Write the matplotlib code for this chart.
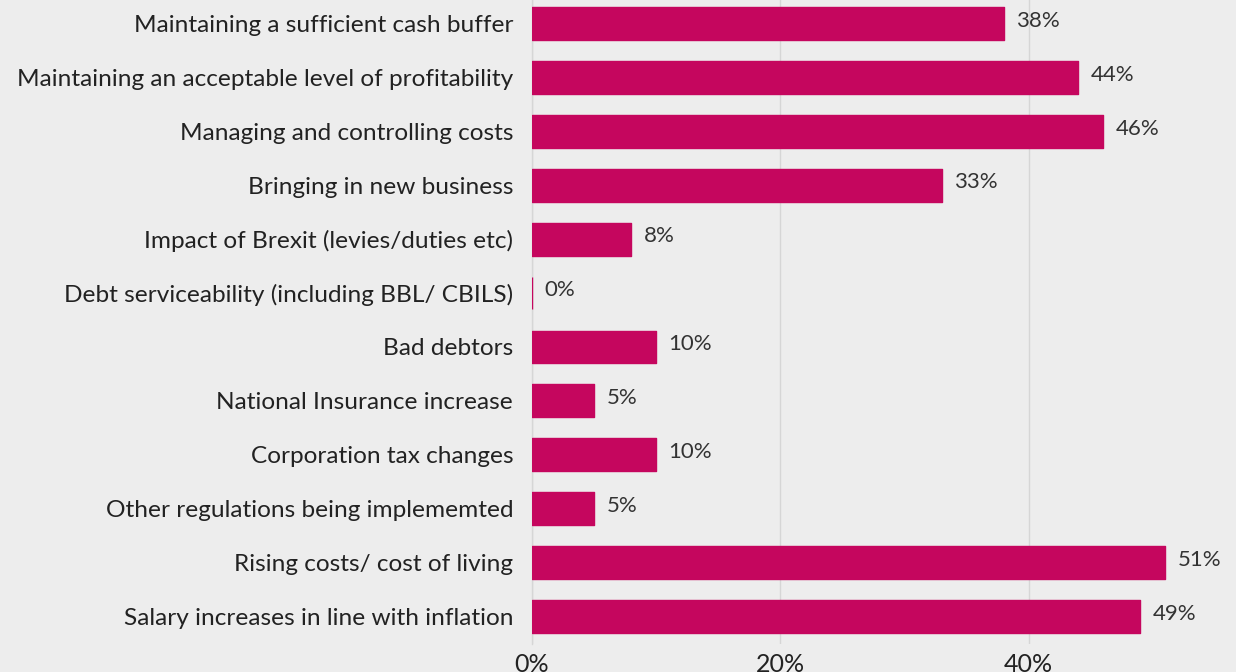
import matplotlib
matplotlib.use("Agg")
import matplotlib.pyplot as plt
from matplotlib.ticker import FuncFormatter

categories = [
    "Maintaining a sufficient cash buffer",
    "Maintaining an acceptable level of profitability",
    "Managing and controlling costs",
    "Bringing in new business",
    "Impact of Brexit (levies/duties etc)",
    "Debt serviceability (including BBL/ CBILS)",
    "Bad debtors",
    "National Insurance increase",
    "Corporation tax changes",
    "Other regulations being implememted",
    "Rising costs/ cost of living",
    "Salary increases in line with inflation",
]
values = [38, 44, 46, 33, 8, 0, 10, 5, 10, 5, 51, 49]
x_ticks = [0, 20, 40]

BG = "#EDEDED"
BAR = "#C5065E"
TEXT = "#222222"

plt.rcParams["font.family"] = ["Lato", "DejaVu Sans"]

fig = plt.figure(figsize=(12.36, 6.72), dpi=100, facecolor=BG)
ax = fig.add_axes([532 / 1236, 28.5 / 672, 704 / 1236, 647 / 672], facecolor=BG)

y = list(range(len(categories)))
bars = ax.barh(y, values, height=0.61, color=BAR, edgecolor=BAR,
               linewidth=1, joinstyle="round", zorder=3)

ax.set_xlim(0, 56.7)
ax.set_ylim(len(categories) - 0.5, -0.5)

ax.set_yticks(y)
ax.set_yticklabels(categories, fontsize=17.6, color=TEXT)
for lbl in ax.get_yticklabels():
    lbl.set_va("center_baseline")
ax.set_xticks(x_ticks)
ax.xaxis.set_major_formatter(FuncFormatter(lambda v, _: f"{v:.0f}%"))
ax.tick_params(axis="x", labelsize=18, colors=TEXT, length=0, pad=7)
ax.tick_params(axis="y", length=0, pad=13.5)

ax.grid(axis="x", color="#D6D6D6", linewidth=1, zorder=0)
for side in ["top", "right", "bottom"]:
    ax.spines[side].set_visible(False)
ax.spines["left"].set_color("#D6D6D6")
ax.spines["left"].set_linewidth(1)

# value labels just right of each bar
for b, v in zip(bars, values):
    ax.annotate(f"{v}%", xy=(v, b.get_y() + b.get_height() / 2),
                xytext=(9, 2), textcoords="offset points",
                va="center", ha="left", fontsize=16, color="#333333")

fig.savefig("out.png", dpi=100, facecolor=BG)
